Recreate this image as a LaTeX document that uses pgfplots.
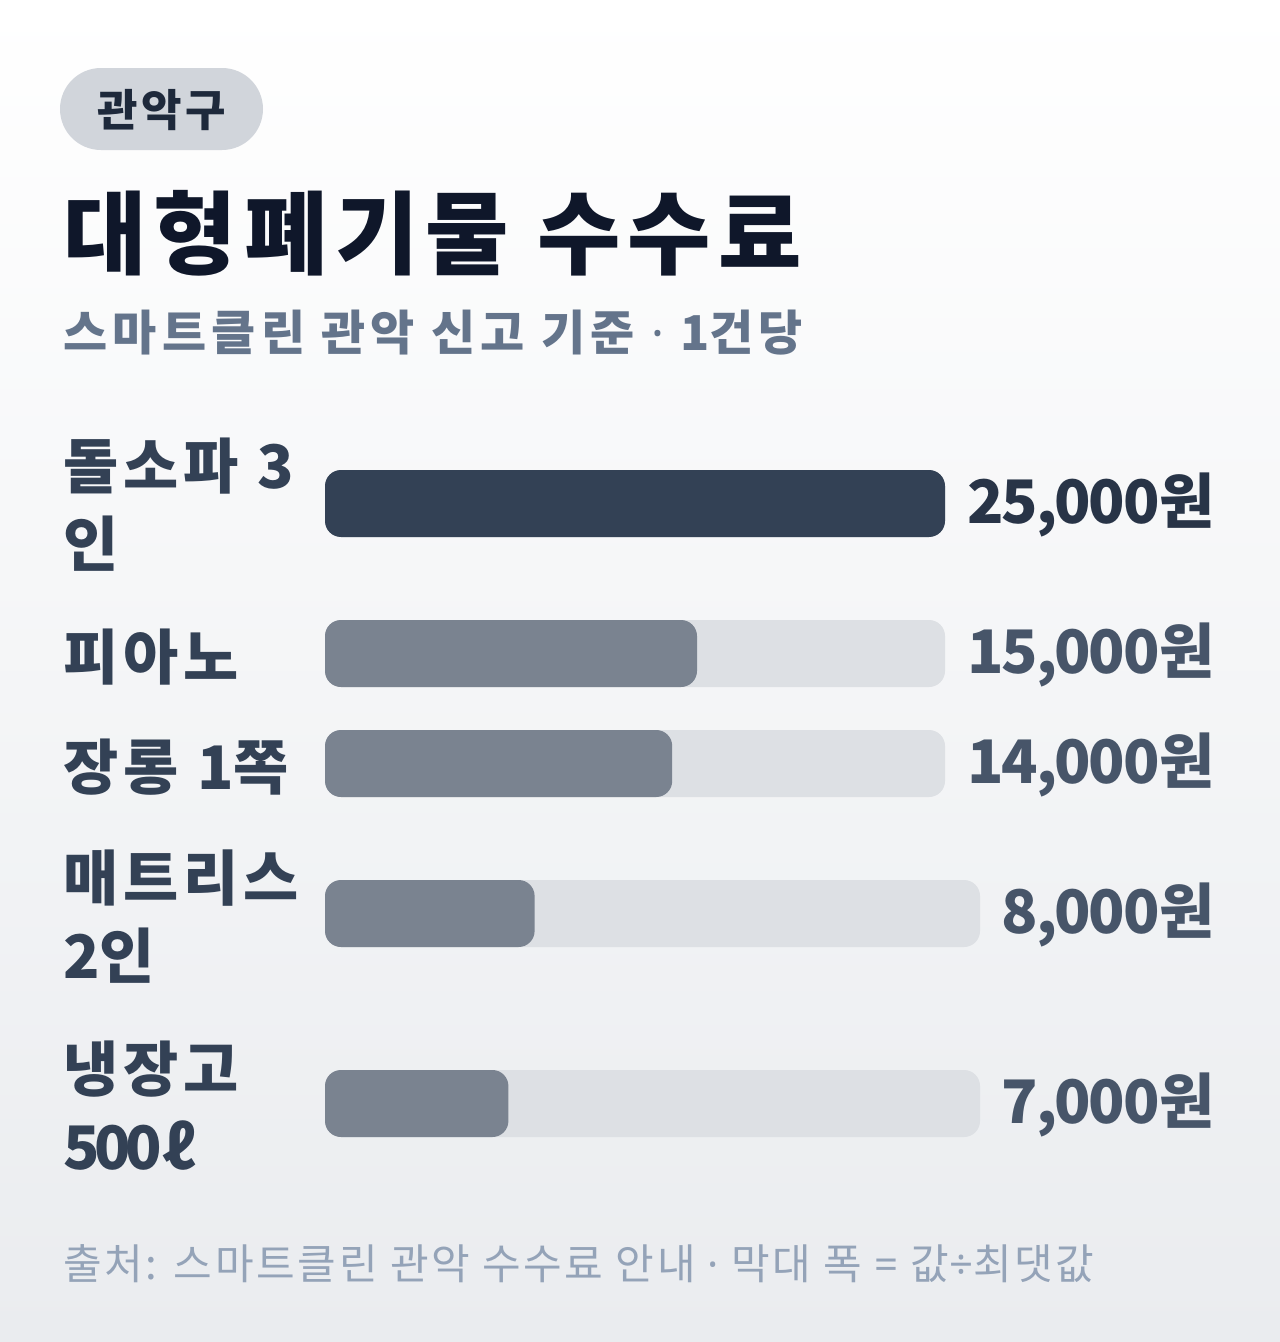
\documentclass[border=0pt]{standalone}
\usepackage{pgfplots}
\pgfplotsset{compat=1.18}
\usepackage{fontspec}
\setmainfont{Noto Sans CJK KR}
\newfontfamily\lat{Noto Sans}
\newfontfamily\num{Noto Sans CJK KR}[LetterSpace=-4]
\newcommand\ls[1]{\addfontfeatures{LetterSpace=#1}}

\definecolor{bgtop}{RGB}{255,255,255}
\definecolor{bgbot}{RGB}{234,236,239}
\definecolor{tagfill}{RGB}{209,213,219}
\definecolor{tagtext}{RGB}{30,41,59}
\definecolor{titlec}{RGB}{15,23,42}
\definecolor{subc}{RGB}{100,116,139}
\definecolor{labelc}{RGB}{51,65,85}
\definecolor{topbar}{RGB}{51,65,85}
\definecolor{restbar}{RGB}{122,131,144}
\definecolor{track}{RGB}{221,224,228}
\definecolor{valtop}{RGB}{40,52,71}
\definecolor{valrest}{RGB}{71,85,105}
\definecolor{footc}{RGB}{148,163,184}

% bar rows, y = minus the pixel centre of each bar
\pgfplotstableread{
y       value  maxv
-503.5  25000  25000
-653.5  15000  25000
-763.5  14000  25000
}\rowsA
\pgfplotstableread{
y       value  maxv
-913.5  8000   25000
-1103.5 7000   25000
}\rowsB

\pgfplotsset{
  barbox/.style={
    scale only axis, hide axis, clip=false,
    anchor=north west, height=500.25pt,
    xmin=0, xmax=25000, ymin=-1137, ymax=-470,
  },
  pill/.style={xbar, bar shift=0pt, bar width=50.25pt, draw=none, rounded corners=12pt},
}

\begin{document}
\begin{tikzpicture}
\begin{scope}[x=0.75pt,y=-0.75pt]
  \shade[top color=bgtop, bottom color=bgbot] (0,0) rectangle (1280,1342);
  \fill[tagfill, rounded corners=30.75pt] (60,68) rectangle (263,150);
  \node[anchor=west, inner sep=0, text=tagtext, font=\bfseries\fontsize{33}{40}\selectfont\ls{8}] at (97,110) {관악구};
  \node[anchor=west, inner sep=0, text=titlec, font=\bfseries\fontsize{68}{80}\selectfont\ls{8}] at (63,233) {대형폐기물 수수료};
  \node[anchor=west, inner sep=0, text=subc, font=\bfseries\fontsize{36}{44}\selectfont\ls{11}] at (63,333) {스마트클린 관악 신고 기준 {\lat\bfseries ·} {\num 1}건당};

  % row labels
  \begin{scope}[every node/.style={anchor=west, align=left, inner sep=0, text=labelc,
      font=\bfseries\fontsize{45}{58.5}\selectfont\ls{8}}]
    \node at (63,505) {돌소파 {\num 3}\\인};
    \node at (63,657) {피아노};
    \node at (63,767) {장롱 {\num 1}쪽};
    \node at (63,917) {매트리스\\{\num 2}인};
    \node at (63,1106) {냉장고\\{\num\addfontfeatures{LetterSpace=-9}500}ℓ};
  \end{scope}

  % values
  \begin{scope}[every node/.style={anchor=east, inner sep=0, text=valrest,
      font=\bfseries\fontsize{45}{54}\selectfont}]
    \node[text=valtop] at (1215,505) {{\num 25,000}원};
    \node at (1215,655) {{\num 15,000}원};
    \node at (1215,765) {{\num 14,000}원};
    \node at (1215,915) {{\num 8,000}원};
    \node at (1215,1105) {{\num 7,000}원};
  \end{scope}

  \node[anchor=west, inner sep=0, text=footc, font=\fontsize{31.5}{38}\selectfont\ls{6.5}] at (63,1264)
    {출처: 스마트클린 관악 수수료 안내 {\lat ·} 막대 폭 {\lat =} 값{\lat ÷}최댓값};

  \coordinate (A1) at (325,470);
\end{scope}

% rows 1-3: track runs 325..945 px
\begin{axis}[barbox, at={(A1)}, width=465pt]
  \addplot[pill, fill=track] table[x=maxv, y=y] {\rowsA};
  \addplot[pill, fill=topbar] coordinates {(25000,-503.5)};
  \addplot[pill, fill=restbar] coordinates {(15000,-653.5) (14000,-763.5)};
\end{axis}

% rows 4-5: track runs 325..980 px
\begin{axis}[barbox, at={(A1)}, width=491.25pt]
  \addplot[pill, fill=track] table[x=maxv, y=y] {\rowsB};
  \addplot[pill, fill=restbar] table[x=value, y=y] {\rowsB};
\end{axis}

\pgfresetboundingbox
\useasboundingbox (0,0) rectangle (960pt,-1006.5pt);
\end{tikzpicture}
\end{document}
